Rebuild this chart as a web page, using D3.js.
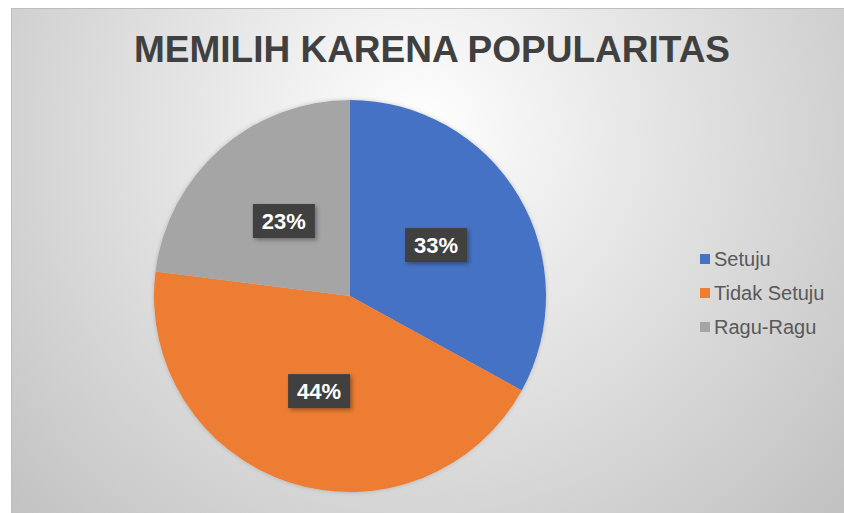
<!DOCTYPE html>
<html>
<head>
<meta charset="utf-8">
<script src="https://cdn.jsdelivr.net/npm/d3@7"></script>
<style>
  html, body { margin: 0; padding: 0; background: #fff; }
  svg { display: block; }
</style>
</head>
<body>
<div id="chart"></div>
<script>
"use strict";

var categories = ["Setuju", "Tidak Setuju", "Ragu-Ragu"];
var values = [33, 44, 23];
var colors = ["#4472C4", "#ED7D31", "#A5A5A5"];
var title = "MEMILIH KARENA POPULARITAS";

var width = 844, height = 513;

var svg = d3.select("#chart").append("svg")
    .attr("width", width)
    .attr("height", height);

var defs = svg.append("defs");

// background gradient of the chart area
var grad = defs.append("radialGradient")
    .attr("id", "bg")
    .attr("gradientUnits", "userSpaceOnUse")
    .attr("cx", 420).attr("cy", 130).attr("r", 560);
grad.append("stop").attr("offset", "0%").attr("stop-color", "#ffffff");
grad.append("stop").attr("offset", "35%").attr("stop-color", "#e9e9e9");
grad.append("stop").attr("offset", "100%").attr("stop-color", "#c2c2c2");

var shadow = defs.append("filter").attr("id", "shadow")
    .attr("x", "-20%").attr("y", "-20%").attr("width", "150%").attr("height", "150%");
shadow.append("feDropShadow")
    .attr("dx", 2).attr("dy", 2).attr("stdDeviation", 2)
    .attr("flood-color", "#000").attr("flood-opacity", 0.35);

var pieShadow = defs.append("filter").attr("id", "pieShadow")
    .attr("x", "-10%").attr("y", "-10%").attr("width", "120%").attr("height", "120%");
pieShadow.append("feDropShadow")
    .attr("dx", 0).attr("dy", 0).attr("stdDeviation", 2)
    .attr("flood-color", "#000").attr("flood-opacity", 0.2);

svg.append("rect")
    .attr("x", 11.5).attr("y", 8.5)
    .attr("width", width).attr("height", height)
    .attr("fill", "url(#bg)")
    .attr("stroke", "#bdbdbd");

// title
svg.append("text")
    .attr("x", 432).attr("y", 62)
    .attr("text-anchor", "middle")
    .attr("font-family", "Liberation Sans, Arial, sans-serif")
    .attr("font-weight", "bold")
    .attr("font-size", 37)
    .attr("fill", "#404040")
    .text(title);

// pie
var cx = 350, cy = 296, radius = 196;

var pie = d3.pie().sort(null).value(function(d) { return d; });
var arcs = pie(values);

var arc = d3.arc().innerRadius(0).outerRadius(radius);
var labelArc = d3.arc().innerRadius(100).outerRadius(100);

var g = svg.append("g")
    .attr("transform", "translate(" + cx + "," + cy + ")");

g.append("g")
    .attr("filter", "url(#pieShadow)")
  .selectAll("path")
  .data(arcs)
  .enter().append("path")
    .attr("d", arc)
    .attr("fill", function(d, i) { return colors[i]; });

// data labels with dark boxes
var total = d3.sum(values);
var labels = g.selectAll("g.label")
  .data(arcs)
  .enter().append("g")
    .attr("class", "label")
    .attr("transform", function(d) {
      var c = labelArc.centroid(d);
      return "translate(" + c[0] + "," + c[1] + ")";
    });

labels.append("rect")
    .attr("x", -31).attr("y", -17)
    .attr("width", 62).attr("height", 34)
    .attr("fill", "#404040")
    .attr("filter", "url(#shadow)");

labels.append("text")
    .attr("text-anchor", "middle")
    .attr("dy", "0.36em")
    .attr("font-family", "Liberation Sans, Arial, sans-serif")
    .attr("font-weight", "bold")
    .attr("font-size", 22)
    .attr("fill", "#ffffff")
    .text(function(d) { return Math.round(d.value / total * 100) + "%"; });

// legend
var legend = svg.append("g")
    .attr("transform", "translate(700,259)");

var item = legend.selectAll("g")
  .data(categories)
  .enter().append("g")
    .attr("transform", function(d, i) { return "translate(0," + (i * 34) + ")"; });

item.append("rect")
    .attr("x", 0).attr("y", -5)
    .attr("width", 10).attr("height", 10)
    .attr("fill", function(d, i) { return colors[i]; });

item.append("text")
    .attr("x", 14)
    .attr("dy", "0.35em")
    .attr("font-family", "Liberation Sans, Arial, sans-serif")
    .attr("font-size", 20)
    .attr("fill", "#595959")
    .text(function(d) { return d; });
</script>
</body>
</html>
